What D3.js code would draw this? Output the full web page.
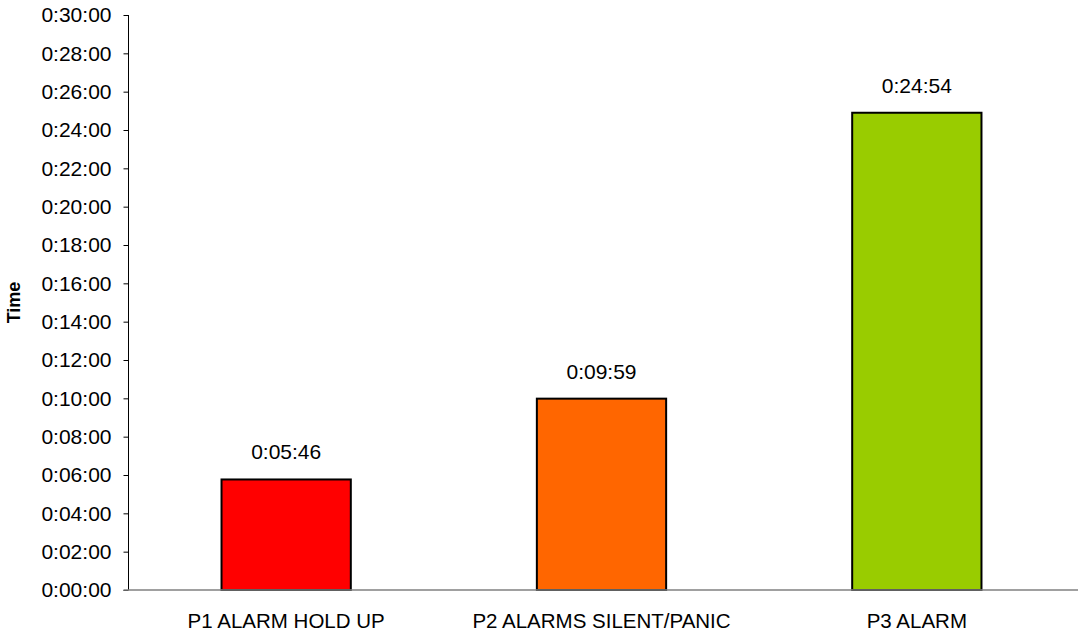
<!DOCTYPE html>
<html><head><meta charset="utf-8">
<script src="https://cdn.jsdelivr.net/npm/d3@7"></script>
<style>body{margin:0;background:#fff}svg{display:block}text{font-family:"Liberation Sans",Arial,sans-serif}</style>
</head><body><svg id="c" width="1078" height="633"></svg>
<script>
const categories = ["P1 ALARM HOLD UP", "P2 ALARMS SILENT/PANIC", "P3 ALARM"];
const valuesSec = [346, 599, 1494];
const valueLabels = ["0:05:46", "0:09:59", "0:24:54"];
const colors = ["#ff0000", "#ff6600", "#99cc00"];
const tickSec = d3.range(0, 1801, 120);
const yTitle = "Time";

const svg = d3.select("#c");
const m = {l:128.5, r:3.5, t:15, b:43};
const W = 1078, H = 633;
const FS = 21;
const x = d3.scaleBand().domain(categories).range([m.l, W - m.r]).paddingInner(0.59).paddingOuter(0.295);
const y = d3.scaleLinear().domain([0, 1800]).range([H - m.b, m.t]);
const fmt = s => { const mm = Math.floor(s/60), ss = s%60; return "0:" + String(mm).padStart(2,"0") + ":" + String(ss).padStart(2,"0"); };

const ya = svg.append("g").attr("transform", `translate(${m.l},0)`)
  .call(d3.axisLeft(y).tickValues(tickSec).tickFormat(fmt).tickSize(5).tickPadding(12));
ya.select(".domain").attr("stroke", "#000").attr("d", `M0,${y(1800)}V${y(0)}`);
ya.selectAll(".tick line").attr("stroke", "#000");
ya.selectAll("text").attr("font-size", FS).attr("fill", "#000").attr("font-family", "Liberation Sans, Arial, sans-serif");

svg.selectAll("rect.bar").data(categories).join("rect").attr("class","bar")
  .attr("x", d => x(d)).attr("width", x.bandwidth())
  .attr("y", (d,i) => y(valuesSec[i])).attr("height", (d,i) => y(0) - y(valuesSec[i]))
  .attr("fill", (d,i) => colors[i]).attr("stroke", "#000").attr("stroke-width", 2);

const xa = svg.append("g").attr("transform", `translate(0,${y(0)})`)
  .call(d3.axisBottom(x).tickSize(0).tickPadding(23));
xa.select(".domain").attr("stroke", "#808080").attr("stroke-width", 1.5).attr("d", `M${m.l-5},0H${W}`);
xa.selectAll("text").attr("font-size", 20.5).attr("fill", "#000").attr("font-family", "Liberation Sans, Arial, sans-serif");

svg.selectAll("text.vl").data(categories).join("text").attr("class","vl")
  .attr("x", d => x(d) + x.bandwidth()/2).attr("y", (d,i) => y(valuesSec[i]) - 20)
  .attr("text-anchor", "middle").attr("font-size", FS).attr("fill", "#000")
  .text((d,i) => valueLabels[i]);

svg.append("text").attr("transform", `translate(20,${(y(0)+y(1800))/2}) rotate(-90)`)
  .attr("text-anchor", "middle").attr("font-size", 18).attr("font-weight", "bold").text(yTitle);
</script></body></html>
